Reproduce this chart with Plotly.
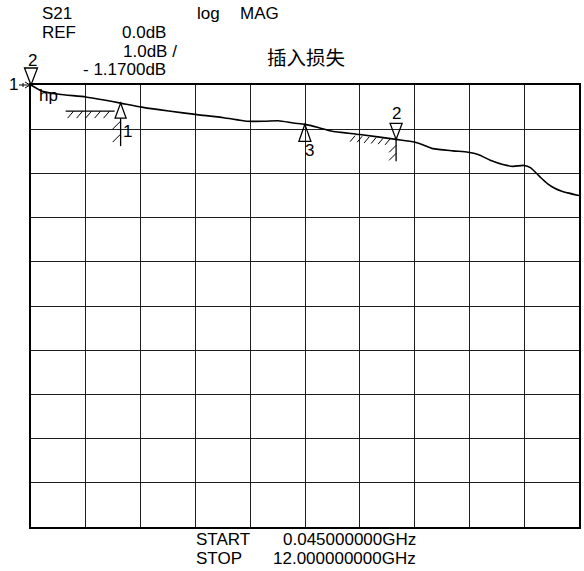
import plotly.graph_objects as go

# ---- data ----
freq_ghz = [0.045, 0.29, 0.66, 1.24, 1.64, 2.00, 2.46, 3.05, 3.67, 4.25, 4.75, 5.15, 5.44,
            5.77, 6.02, 6.31, 6.59, 7.22, 8.01, 8.41, 8.59, 8.81, 9.25, 9.58, 9.80, 10.08,
            10.34, 10.56, 10.80, 10.94, 11.16, 11.31, 11.46, 11.64, 11.75, 12.00]
s21_db = [0.00, -0.14, -0.21, -0.27, -0.34, -0.41, -0.50, -0.59, -0.67, -0.74, -0.82, -0.82, -0.81,
          -0.86, -0.89, -0.96, -1.04, -1.12, -1.23, -1.29, -1.35, -1.44, -1.49, -1.52, -1.57, -1.71,
          -1.80, -1.84, -1.82, -1.87, -2.09, -2.23, -2.33, -2.41, -2.44, -2.50]

start_ghz = 0.045
stop_ghz = 12.0
ref_db = 0.0
scale_db = 1.0
n_div = 10

marker_names = ["1", "2", "3"]
marker_freq = [2.00, 8.01, 6.02]
marker_db = [-0.41, -1.23, -0.89]

FONT = "Liberation Sans, Arial, sans-serif"
CJK = "Noto Sans CJK SC, sans-serif"
FS = 17

fig = go.Figure()
fig.add_trace(go.Scatter(x=freq_ghz, y=s21_db, mode="lines",
                         line=dict(color="black", width=1.6, shape="spline", smoothing=0.6),
                         hoverinfo="skip", showlegend=False))

fig.update_layout(
    width=584, height=571,
    margin=dict(l=31, r=3, t=85, b=44),
    paper_bgcolor="white", plot_bgcolor="white",
    showlegend=False,
    font=dict(family=FONT, size=FS, color="black"),
)
fig.update_xaxes(range=[start_ghz, stop_ghz], tick0=start_ghz,
                 dtick=(stop_ghz - start_ghz) / n_div, showticklabels=False, ticks="",
                 showgrid=True, gridcolor="#1e1e1e", gridwidth=1, zeroline=False,
                 showline=True, linecolor="black", linewidth=2, mirror=True)
fig.update_yaxes(range=[ref_db - n_div * scale_db, ref_db], tick0=ref_db, dtick=scale_db,
                 showticklabels=False, ticks="",
                 showgrid=True, gridcolor="#1e1e1e", gridwidth=1, zeroline=False,
                 showline=True, linecolor="black", linewidth=2, mirror=True)

# pixel -> paper helpers (plot area 31..581 x 85..527)
def xp(X):
    return (X - 31) / 550.0

def yp(Y):
    return (527 - Y) / 442.0

def txt(text, X, Y, anchor="left", size=FS, family=FONT):
    fig.add_annotation(x=xp(X), y=yp(Y), xref="paper", yref="paper", text=text,
                       showarrow=False, xanchor=anchor, yanchor="middle",
                       font=dict(family=family, size=size, color="black"))

txt("S21", 40, 14)
txt("REF", 40, 33)
txt("0.0dB", 168, 33, "right")
txt("1.0dB /", 121, 51)
txt("- 1.1700dB", 168, 70, "right")
txt("log", 196, 14)
txt("MAG", 239, 14)
txt("插入损失", 266, 56, size=19.5, family=CJK)
txt("hp", 37, 95)
txt("START", 195, 539)
txt("0.045000000GHz", 419, 539, "right")
txt("STOP", 195, 558)
txt("12.000000000GHz", 419, 558, "right")

def pshape(path, fx, fy, width=1.2, ref="data"):
    if ref == "data":
        xr, yr = "x", "y"
    else:
        xr, yr = "paper", "paper"
    fig.add_shape(type="path", path=path, xref=xr, yref=yr,
                  xsizemode="pixel", ysizemode="pixel", xanchor=fx, yanchor=fy,
                  line=dict(color="black", width=width), fillcolor="rgba(0,0,0,0)")

def plabel(text, fx, fy, dx, dy, size=FS, ref="data"):
    xr, yr = ("x", "y") if ref == "data" else ("paper", "paper")
    fig.add_annotation(x=fx, y=fy, xref=xr, yref=yr, text=text, showarrow=False,
                       xshift=dx, yshift=dy, xanchor="center", yanchor="middle",
                       font=dict(family=FONT, size=size, color="black"))

# reference position indicator "1 ->" and start marker "2" (anchored at plot corner: start freq, ref level)
x_ref = (start_ghz - start_ghz) / (stop_ghz - start_ghz)
y_ref = (ref_db - (ref_db - n_div * scale_db)) / (n_div * scale_db)
plabel("1", x_ref, y_ref, -18, 1, ref="paper")
pshape("M -12 0 L -1 0 M -6 3 L -1 0 L -6 -3 M -8 2 L -8 -2", x_ref, y_ref, 1.0, ref="paper")
pshape("M 0 0 L -6.5 17 L 6.5 17 Z", x_ref, y_ref, 1.3, ref="paper")
plabel("2", x_ref, y_ref, 1, 25, ref="paper")

for name, f, d in zip(marker_names, marker_freq, marker_db):
    if name == "1":
        pshape("M 0 0 L -5.5 -15 L 5.5 -15 Z", f, d, 1.3)
        pshape("M 0 -15 L 0 -43", f, d, 1.3)
        pshape("M -55 -8 L -6 -8", f, d, 1.2)
        hatch = "".join(f"M {x} -8 L {x-6} -15 " for x in [-47, -38, -29, -20, -11])
        pshape(hatch, f, d, 1.0)
        pshape("M 0 -18 L -8 -26 M 0 -31 L -8 -39", f, d, 1.0)
        plabel(name, f, d, 7, -28)
    elif name == "3":
        pshape("M 0 0 L -6 -17 L 6 -17 Z", f, d, 1.3)
        plabel(name, f, d, 5, -26)
    else:
        pshape("M 0 0 L -6 16 L 6 16 Z", f, d, 1.3)
        pshape("M 0 0 L 0 -22", f, d, 1.3)
        hatch = "".join(f"M {x} {0.09*(-x):.1f} L {x-5} {0.09*(-x)-6:.1f} " for x in [-41, -34, -27, -20, -13, -6])
        pshape(hatch, f, d, 1.0)
        pshape("M 0 -6 L -7 -13 M 0 -14 L -7 -21", f, d, 1.0)
        plabel(name, f, d, 0, 26)

fig.write_html("out.html")
